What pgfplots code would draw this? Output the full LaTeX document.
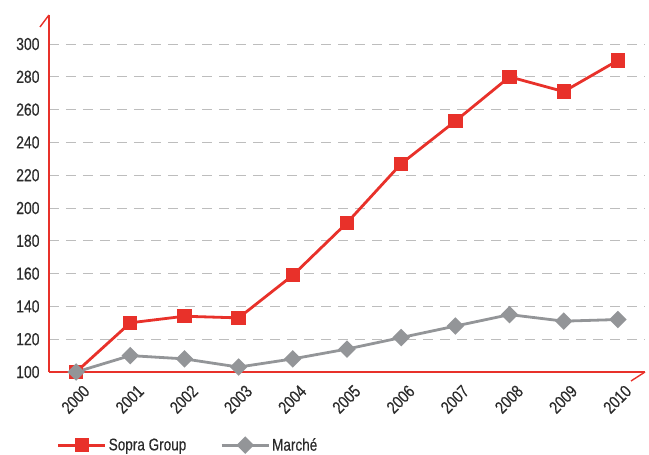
\documentclass[border=0pt]{standalone}
\usepackage{fontspec}
\setmainfont{Liberation Sans}[FakeStretch=0.8, FakeBold=0.4]
\usepackage{pgfplots}
\pgfplotsset{compat=1.18}
\definecolor{sopra}{HTML}{E8312A}
\definecolor{marche}{HTML}{939598}
\definecolor{gridc}{HTML}{BDBDBD}
\definecolor{txt}{HTML}{2B2B2B}
\begin{document}
\begin{tikzpicture}[x=1bp,y=1bp]
\begin{axis}[
  scale only axis,
  width=596bp, height=357bp,
  xmin=-0.5, xmax=10.5,
  ymin=100, ymax=317.7,
  clip=false,
  axis x line=bottom, axis y line=left,
  axis line style={sopra, line width=1.4bp, -},
  xtick={0,...,10},
  xticklabels={2000,2001,2002,2003,2004,2005,2006,2007,2008,2009,2010},
  ytick={100,120,...,300},
  major tick length=0pt,
  ymajorgrids,
  grid style={gridc, line width=1bp, dash pattern=on 10bp off 7bp},
  /pgf/number format/assume math mode=true,
  tick label style={font=\fontsize{17.5}{20}\selectfont, text=txt},
  xticklabel style={xshift=6bp, yshift=-7bp, rotate=45, anchor=north east},
  yticklabel style={xshift=-6bp},
  legend style={at={(rel axis cs:0.008,-0.205)}, anchor=west, draw=none, fill=none,
    font=\fontsize{17}{20}\selectfont, text=txt, legend columns=2,
    /tikz/every even column/.append style={column sep=32bp}},
  legend image code/.code={
    \draw[#1, mark repeat=2, mark phase=2] plot coordinates {(0bp,0bp) (23.5bp,0bp) (47bp,0bp)};
  },
]
\addplot[sopra, line width=2.8bp, mark=square*, mark size=5.8bp, mark options={solid}] coordinates {
(0,100) (1,130) (2,134) (3,133) (4,159) (5,191) (6,227) (7,253) (8,280) (9,271) (10,290)};
\addlegendentry{Sopra Group}
\addplot[marche, line width=2.8bp, mark=square*, mark size=4.8bp, mark options={solid, rotate=45}] coordinates {
(0,100) (1,110) (2,108) (3,103) (4,108) (5,114) (6,121) (7,128) (8,135) (9,131) (10,132)};
\addlegendentry{Marché}
\coordinate (TL) at (rel axis cs:0,1);
\coordinate (BR) at (rel axis cs:1,0);
\coordinate (SW) at (rel axis cs:0,0);
\end{axis}
\draw[sopra, line width=1.4bp] (TL) -- ++(-9bp,-12bp);
\draw[sopra, line width=1.4bp] (BR) -- ++(-14bp,-9bp);
\pgfresetboundingbox
\path ([xshift=-49bp,yshift=-83bp]SW) rectangle ++(649bp,455bp);
\end{tikzpicture}
\end{document}
